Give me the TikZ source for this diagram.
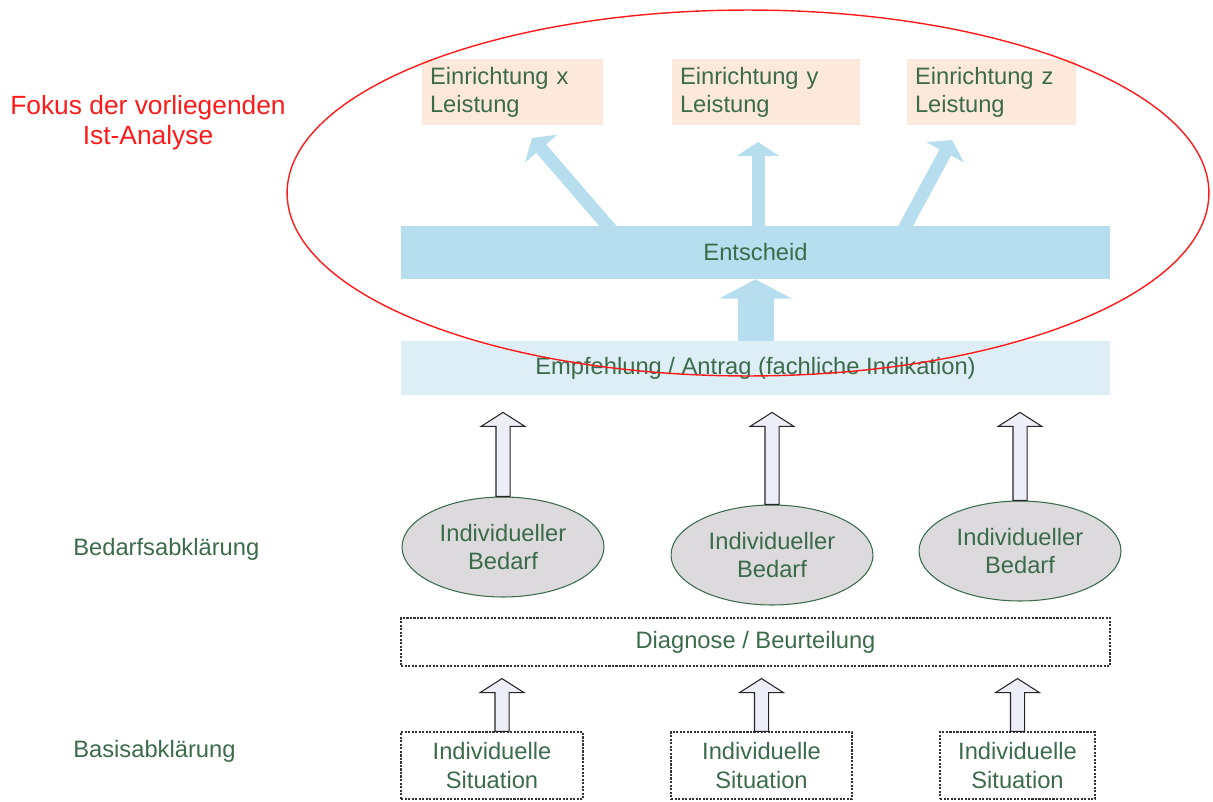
\documentclass[tikz,border=0pt]{standalone}
\usepackage{fontspec}
\setmainfont{Liberation Sans}
\usetikzlibrary{arrows.meta, shapes.geometric, calc}
\definecolor{txtgreen}{HTML}{3B6B4A}
\definecolor{fokusred}{HTML}{FF1A1A}
\definecolor{bluebar}{HTML}{B6DEEE}
\definecolor{lightbar}{HTML}{DDEEF7}
\definecolor{peach}{HTML}{FDE9DC}
\definecolor{ellgrey}{HTML}{DCDADC}
\definecolor{hollowfill}{HTML}{EEEEF8}
\definecolor{dotgray}{HTML}{333333}

% hollow block arrow: #1 foot, #2 target node side, #3 gap below target
\newcommand{\hollowarrow}[3]{%
  \draw[hollow] let \p1=(#1), \p2=(#2) in
    (\x1-4pt,\y1) -- (\x1-4pt,\y2-#3-8pt) -- (\x1-12.5pt,\y2-#3-8pt)
    -- (\x1,\y2-#3) -- (\x1+12.5pt,\y2-#3-8pt) -- (\x1+4pt,\y2-#3-8pt)
    -- (\x1+4pt,\y1) -- cycle;}

\begin{document}
\begin{tikzpicture}[x=0.02cm, y=-0.02cm,
  every node/.style={font=\fontsize{13.5}{16}\selectfont, text=txtgreen},
  leistung/.style={fill=peach, inner xsep=0.16cm, text width=#1, align=left,
    minimum height=1.34cm},
  bar/.style={fill=#1, minimum width=14.18cm, inner sep=0pt},
  dotbox/.style={draw=dotgray, dash pattern=on 1.2pt off 0.8pt, line width=0.7pt,
    align=center, inner sep=0pt},
  bedarf/.style={ellipse, draw=txtgreen, line width=0.6pt, fill=ellgrey,
    minimum width=4.04cm, minimum height=2cm, inner sep=0pt, align=center},
  hollow/.style={draw=black!85, fill=hollowfill, line width=0.6pt},
  blockarrow/.style={draw=bluebar, line width=7.4pt,
    -{Triangle[width=24pt, length=8pt]}},
  bigarrow/.style={draw=bluebar, line width=20.5pt,
    -{Triangle[width=41pt, length=11pt]}},
  fokus/.style={draw=fokusred, line width=0.8pt}
]

% canvas in pixels of the original (y runs downwards)
\useasboundingbox (0,0) rectangle (1213,801);

% --- Leistungen ---
\node[leistung=3.30cm] (einx) at (512.5,92) {Einrichtung x\\Leistung};
\node[leistung=3.44cm] (einy) at (766,92) {Einrichtung y\\Leistung};
\node[leistung=3.06cm] (einz) at (991.5,92) {Einrichtung z\\Leistung};

% --- Bars ---
\node[bar=bluebar, minimum height=1.06cm] (ent) at (755.5,252.5) {Entscheid};
\node[bar=lightbar, minimum height=1.08cm] (empf) at (755.5,368)
  {Empfehlung / Antrag (fachliche Indikation)};

% --- Bedarf ---
\node[bedarf] (bed1) at (503,547) {Individueller\\Bedarf};
\node[bedarf] (bed2) at (772,555) {Individueller\\Bedarf};
\node[bedarf] (bed3) at (1020,551) {Individueller\\Bedarf};

\node[dotbox, minimum width=14.18cm, minimum height=0.96cm] (diag) at (755.5,642)
  {Diagnose / Beurteilung};

% --- Situationen ---
\node[dotbox, minimum width=3.64cm, minimum height=1.34cm] (sit1) at (492,765.5)
  {Individuelle\\Situation};
\node[dotbox, minimum width=3.62cm, minimum height=1.34cm] (sit2) at (761.5,765.5)
  {Individuelle\\Situation};
\node[dotbox, minimum width=3.10cm, minimum height=1.34cm] (sit3) at (1017.5,765.5)
  {Individuelle\\Situation};

% --- Ebenen links ---
\node[anchor=west, inner sep=0pt] (bedlabel) at (73,549) {Bedarfsabklärung};
\node[anchor=west, inner sep=0pt] (baslabel) at (73,751) {Basisabklärung};
\node[text=fokusred, font=\fontsize{15}{17}\selectfont, align=center] (fokuslabel)
  at (148,123) {Fokus der vorliegenden\\Ist-Analyse};

% --- Blue arrows ---
\coordinate (fx) at (620,240); \coordinate (tx) at (532,138);
\coordinate (fy) at (758,240); \coordinate (ty) at (758,142);
\coordinate (fz) at (898,240); \coordinate (tz) at (952,140);
\draw[blockarrow] (fx) -- (tx);
\draw[blockarrow] (fy) -- (ty);
\draw[blockarrow] (fz) -- (tz);
\draw[bigarrow] (empf.north) -- (ent.south);

% --- Hollow arrows ---
\hollowarrow{bed1.north}{empf.south}{9.7pt}
\hollowarrow{bed2.north}{empf.south}{9.7pt}
\hollowarrow{bed3.north}{empf.south}{9.7pt}
\hollowarrow{[xshift=0.2cm]sit1.north}{diag.south}{6.8pt}
\hollowarrow{sit2.north}{diag.south}{6.8pt}
\hollowarrow{sit3.north}{diag.south}{6.8pt}

% --- Fokus ---
\draw[fokus] (748,193) ellipse [x radius=9.22cm, y radius=3.66cm];

\end{tikzpicture}
\end{document}
